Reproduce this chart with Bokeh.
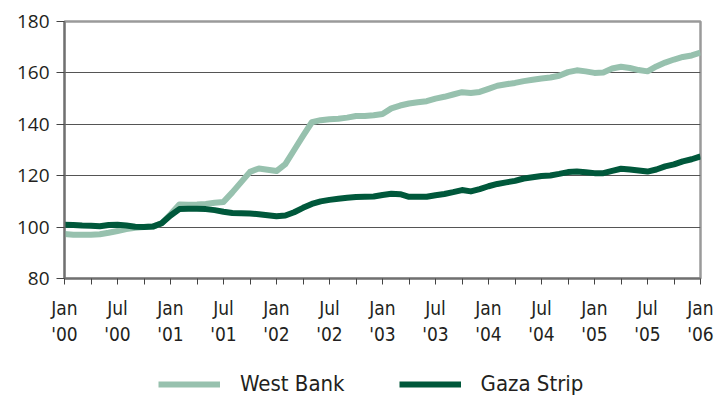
import numpy as np
from bokeh.plotting import figure
from bokeh.layouts import column
from bokeh.models import FixedTicker, Legend, LegendItem, ColumnDataSource
from bokeh.embed import file_html
from bokeh.resources import INLINE

# months since Jan 2000 (monthly data, Jan '00 .. Jan '06)
months = list(range(73))

west_bank = [97.3, 97.0, 97.0, 97.0, 97.2, 97.8, 98.5, 99.2, 99.7, 100.0, 100.2, 101.5,
             105.0, 108.8, 108.7, 108.8, 109.0, 109.5, 109.8, 113.5, 117.5, 121.5, 122.8, 122.3,
             121.8, 124.5, 130.0, 135.5, 140.8, 141.6, 142.0, 142.2, 142.6, 143.2, 143.2, 143.5,
             144.0, 146.2, 147.3, 148.1, 148.6, 149.0, 150.0, 150.7, 151.6, 152.5, 152.2, 152.6,
             153.8, 155.0, 155.6, 156.1, 156.8, 157.3, 157.8, 158.2, 158.9, 160.3, 161.0, 160.6,
             160.0, 160.2, 161.7, 162.4, 161.9, 161.1, 160.6, 162.5, 164.0, 165.2, 166.2, 166.8,
             167.9]

gaza_strip = [100.9, 100.8, 100.6, 100.5, 100.3, 100.8, 100.9, 100.6, 100.1, 100.0, 100.2, 101.5,
              104.5, 107.0, 107.1, 107.1, 107.0, 106.6, 106.0, 105.5, 105.4, 105.3, 105.0, 104.6,
              104.2, 104.5, 105.8, 107.5, 109.0, 110.0, 110.6, 111.0, 111.4, 111.7, 111.8, 111.9,
              112.5, 113.0, 112.8, 111.8, 111.8, 111.8, 112.4, 112.9, 113.6, 114.4, 113.9, 114.8,
              115.9, 116.8, 117.4, 118.0, 118.9, 119.4, 119.9, 120.1, 120.7, 121.4, 121.6, 121.3,
              121.0, 121.0, 121.9, 122.7, 122.4, 122.0, 121.6, 122.4, 123.6, 124.4, 125.6, 126.4,
              127.5]

x_ticks = list(range(0, 73, 3))
x_tick_labels = ["Jan\n'00", "", "Jul\n'00", "",
                 "Jan\n'01", "", "Jul\n'01", "",
                 "Jan\n'02", "", "Jul\n'02", "",
                 "Jan\n'03", "", "Jul\n'03", "",
                 "Jan\n'04", "", "Jul\n'04", "",
                 "Jan\n'05", "", "Jul\n'05", "",
                 "Jan\n'06"]
y_ticks = [80, 100, 120, 140, 160, 180]
series_names = ["West Bank", "Gaza Strip"]

WB_COL = "#97c1ae"
GS_COL = "#00583b"
LABEL_FONT = "DejaVu Sans Condensed"
TEXT_COL = "#231f20"

src = ColumnDataSource(dict(m=months, wb=west_bank, gs=gaza_strip))

p = figure(width=718, height=358, output_backend="svg", toolbar_location=None,
           x_range=(0, 72), y_range=(80, 180),
           min_border_left=64, min_border_right=18, min_border_top=21, min_border_bottom=80)

p.line("m", "wb", source=src, line_color=WB_COL, line_width=6, line_join="round")
p.line("m", "gs", source=src, line_color=GS_COL, line_width=6, line_join="round")

p.xaxis.ticker = FixedTicker(ticks=x_ticks)
p.xaxis.major_label_overrides = {t: l for t, l in zip(x_ticks, x_tick_labels)}
p.yaxis.ticker = FixedTicker(ticks=y_ticks)

for ax in (p.xaxis[0], p.yaxis[0]):
    ax.axis_line_color = "#707070"
    ax.axis_line_width = 2
    ax.major_tick_line_color = "#444444"
    ax.major_tick_line_width = 1
    ax.major_tick_in = 0
    ax.minor_tick_line_color = None
    ax.major_label_text_color = TEXT_COL

p.xaxis.major_tick_out = 6
p.yaxis.major_tick_out = 8
p.xaxis.major_label_text_font = LABEL_FONT
p.xaxis.major_label_text_font_size = "19px"
p.xaxis.major_label_standoff = 12
p.yaxis.major_label_text_font = "Open Sans"
p.yaxis.major_label_text_font_size = "19px"
p.yaxis.major_label_standoff = 7

p.xgrid.grid_line_color = None
p.ygrid.grid_line_color = "#555555"
p.ygrid.grid_line_width = 1

p.outline_line_color = "#9a9a9a"
p.outline_line_width = 2.5
p.background_fill_color = "white"
p.border_fill_color = "white"

# legend strip below the chart (swatch renderers carry no visible points)
lg = figure(width=718, height=50, output_backend="svg", toolbar_location=None,
            x_range=(0, 1), y_range=(0, 1),
            x_axis_location=None, y_axis_location=None,
            min_border_left=0, min_border_right=0, min_border_top=0, min_border_bottom=0)
lg.grid.grid_line_color = None
lg.outline_line_color = None
l_wb = lg.line([np.nan], [np.nan], line_color=WB_COL, line_width=6)
l_gs = lg.line([np.nan], [np.nan], line_color=GS_COL, line_width=6)
legend = Legend(items=[LegendItem(label=series_names[0], renderers=[l_wb]),
                       LegendItem(label=series_names[1], renderers=[l_gs])],
                orientation="horizontal", location=(94, 12),
                label_text_font=LABEL_FONT, label_text_font_size="22px",
                label_text_color=TEXT_COL,
                glyph_width=62, glyph_height=24, label_standoff=20, spacing=54,
                padding=0, border_line_color=None, background_fill_alpha=0, margin=0)
lg.add_layout(legend, "center")

layout = column(p, lg, spacing=0)
open("out.html", "w").write(file_html(layout, INLINE))
